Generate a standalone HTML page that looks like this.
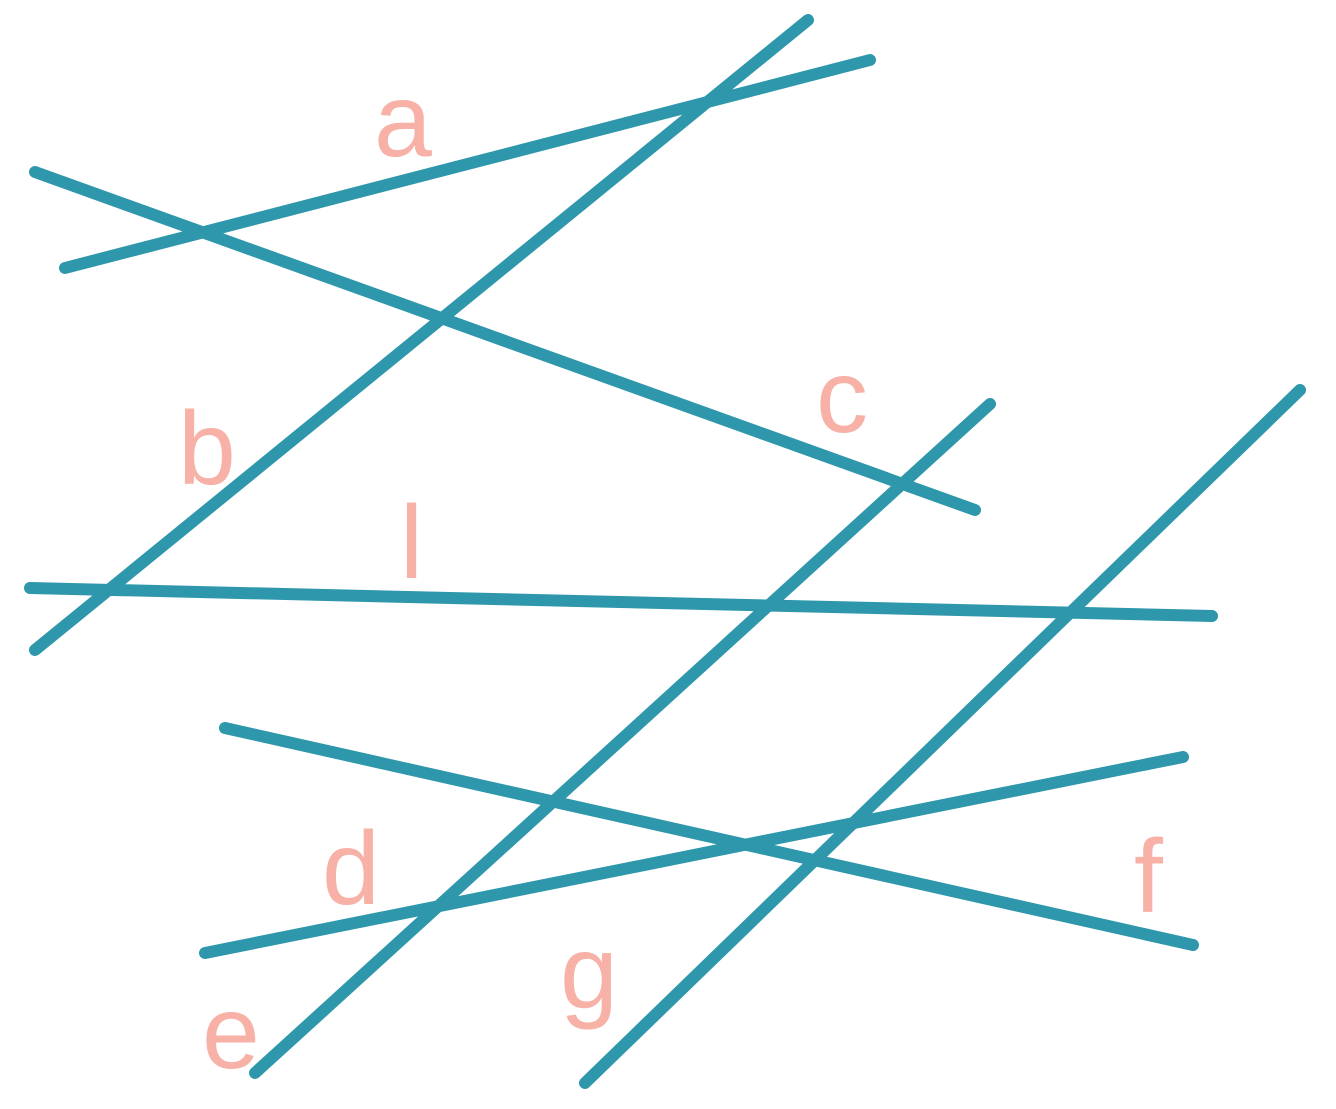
<!DOCTYPE html>
<html><head><meta charset="utf-8"><style>
html,body{margin:0;padding:0;background:#fff;}
svg{display:block;}
text{font-family:"Liberation Sans",sans-serif;fill:#f7b1a6;font-size:104px;}
</style></head><body>
<svg width="1336" height="1109" viewBox="0 0 1336 1109" xmlns="http://www.w3.org/2000/svg">
<g stroke="#2e97ab" stroke-width="12" stroke-linecap="round" fill="none">
<line x1="65" y1="268" x2="870" y2="60"/>
<line x1="35" y1="650" x2="808" y2="20"/>
<line x1="35" y1="172" x2="975" y2="510"/>
<line x1="30" y1="588" x2="1212" y2="616"/>
<line x1="990" y1="404" x2="255" y2="1073"/>
<line x1="1300" y1="390" x2="585" y2="1083"/>
<line x1="225" y1="728" x2="1193" y2="945"/>
<line x1="205" y1="953" x2="1183" y2="757"/>
</g>
<text x="374" y="156">a</text>
<text x="178" y="484">b</text>
<text x="816" y="432">c</text>
<text x="400" y="578">l</text>
<text x="322" y="904">d</text>
<text x="202" y="1068">e</text>
<text x="1134" y="912">f</text>
<text x="560" y="1008">g</text>
</svg>
</body></html>
